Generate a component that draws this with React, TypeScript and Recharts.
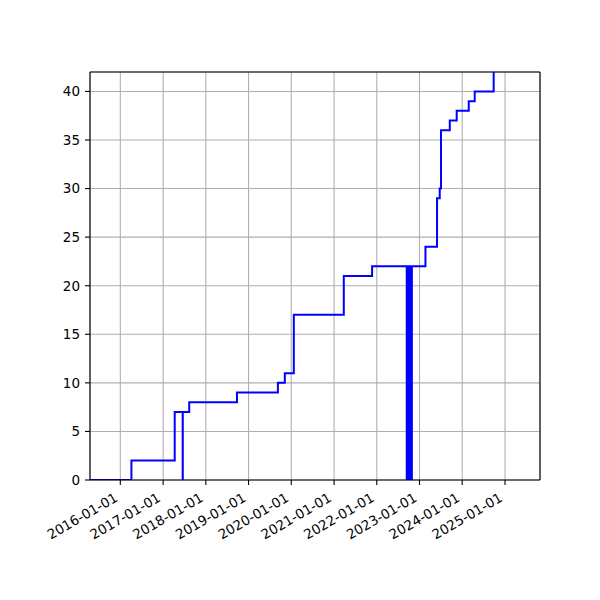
import { CartesianGrid, Line, LineChart, ReferenceLine, XAxis, YAxis } from 'recharts';

// step dates (UTC) and the running count at each one
const stepDates = [
  '2015-04-17', '2016-04-05', '2017-04-10', '2017-06-17', '2017-06-18', '2017-08-12',
  '2018-09-24', '2019-09-09', '2019-11-07', '2020-01-23', '2021-03-25', '2021-11-22',
  '2022-09-14', '2022-09-17', '2022-09-20', '2022-09-23', '2022-09-26', '2022-09-29',
  '2022-10-02', '2022-10-05', '2022-10-08', '2022-10-11', '2022-10-14', '2022-10-17',
  '2022-10-20', '2022-10-23', '2022-10-26', '2022-10-28',
  '2023-02-21', '2023-05-31', '2023-06-23', '2023-07-04', '2023-09-17', '2023-11-15',
  '2024-02-26', '2024-04-17', '2024-09-26',
];
const stepCounts = [
  0, 2, 7, 0, 7, 8,
  9, 10, 11, 17, 21, 22,
  0, 22, 0, 22, 0, 22,
  0, 22, 0, 22, 0, 22,
  0, 22, 0, 22,
  24, 29, 30, 36, 37, 38,
  39, 40, 42,
];

const xTickLabels = [
  '2016-01-01', '2017-01-01', '2018-01-01', '2019-01-01', '2020-01-01',
  '2021-01-01', '2022-01-01', '2023-01-01', '2024-01-01', '2025-01-01',
];
const yTicks = [0, 5, 10, 15, 20, 25, 30, 35, 40];
const xStart = '2015-04-17';
const xEnd = '2025-10-27';
const yMax = 42;

const toMs = (s: string) => Date.parse(s + 'T00:00:00Z');

const data = stepDates.map((d, i) => ({ t: toMs(d), count: stepCounts[i] }));
const xTicks = xTickLabels.map(toMs);
const labelFor = new Map(xTicks.map((t, i) => [t, xTickLabels[i]]));

const font = 'DejaVu Sans';
const fontSize = 13.5;

function DateTick({ x, y, payload }: any) {
  const ex = x - 1.6;
  const ey = y + 15.5;
  return (
    <text
      x={ex}
      y={ey}
      transform={`rotate(-30 ${ex} ${ey})`}
      textAnchor="end"
      fontFamily={font}
      fontSize={fontSize}
      fill="#000"
    >
      {labelFor.get(payload.value)}
    </text>
  );
}

export default function App() {
  return (
    <div style={{ position: 'absolute', left: 0, top: 0, width: 600, height: 600, background: '#fff' }}>
      <LineChart
        width={600}
        height={600}
        data={data}
        margin={{ top: 72, right: 60, left: 50, bottom: 60 }}
      >
        <CartesianGrid stroke="#b0b0b0" strokeWidth={1.1} />
        {/* top and right spines */}
        <ReferenceLine y={yMax} stroke="#000" strokeWidth={1.1} ifOverflow="visible" />
        <ReferenceLine x={toMs(xEnd)} stroke="#000" strokeWidth={1.1} ifOverflow="visible" />
        <XAxis
          dataKey="t"
          type="number"
          scale="time"
          domain={[toMs(xStart), toMs(xEnd)]}
          ticks={xTicks}
          allowDataOverflow
          height={60}
          stroke="#000"
          strokeWidth={1.1}
          tickSize={5}
          tickMargin={0}
          tick={<DateTick />}
          interval={0}
        />
        <YAxis
          type="number"
          domain={[0, yMax]}
          ticks={yTicks}
          allowDataOverflow
          width={40}
          stroke="#000"
          strokeWidth={1.1}
          tickSize={5}
          tickMargin={5}
          interval={0}
          tick={{ fill: '#000', fontFamily: font, fontSize }}
        />
        <Line
          type="stepAfter"
          dataKey="count"
          stroke="#0000ff"
          strokeWidth={2}
          dot={false}
          isAnimationActive={false}
        />
      </LineChart>
    </div>
  );
}
